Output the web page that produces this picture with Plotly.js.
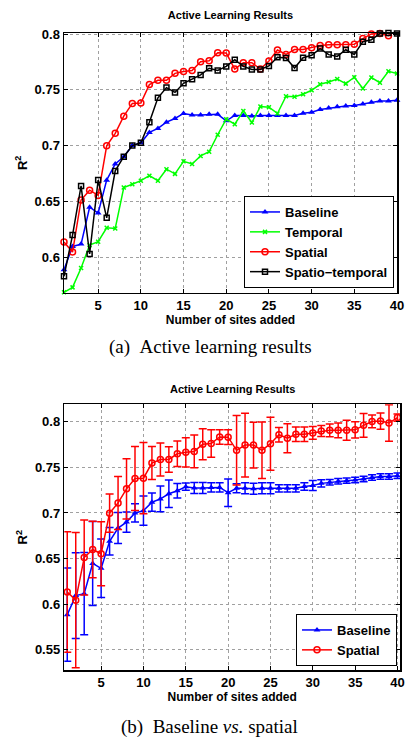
<!DOCTYPE html>
<html>
<head>
<meta charset="utf-8">
<script src="https://cdn.plot.ly/plotly-3.0.1.min.js"></script>
<style>
html,body{margin:0;padding:0;background:#fff;}
#chart{width:406px;height:738px;}
</style>
</head>
<body>
<div id="chart"></div>
<script>
// ---- data ----
const sites = [1,2,3,4,5,6,7,8,9,10,11,12,13,14,15,16,17,18,19,20,21,22,23,24,25,26,27,28,29,30,31,32,33,34,35,36,37,38,39,40];
const baseline = [0.5886,0.6095,0.6116,0.6447,0.6394,0.669,0.6835,0.690,0.700,0.7025,0.7118,0.7154,0.721,0.7243,0.7288,0.7274,0.7274,0.728,0.728,0.7222,0.727,0.727,0.7265,0.727,0.727,0.727,0.727,0.727,0.729,0.730,0.7324,0.7336,0.7348,0.7354,0.736,0.7372,0.7389,0.740,0.740,0.7407];
const temporal = [0.5684,0.5728,0.5902,0.6107,0.6137,0.6262,0.6256,0.6623,0.6653,0.6685,0.673,0.6685,0.6788,0.6746,0.6859,0.6835,0.6907,0.6945,0.7097,0.7237,0.7192,0.7311,0.7207,0.735,0.7344,0.7288,0.7443,0.7438,0.746,0.7496,0.755,0.757,0.7597,0.7556,0.7613,0.7512,0.761,0.7564,0.7666,0.7646];
const spatial = [0.6134,0.6045,0.6512,0.660,0.6553,0.6998,0.711,0.7264,0.7378,0.7381,0.7547,0.7586,0.7586,0.7648,0.7664,0.7674,0.7752,0.7760,0.7832,0.7830,0.7686,0.7743,0.7743,0.7686,0.7759,0.7857,0.7818,0.7862,0.7862,0.7877,0.7897,0.7905,0.7905,0.7905,0.791,0.796,0.8002,0.8006,0.7985,0.8045];
const spatioTemporal = [0.5827,0.6197,0.6638,0.6027,0.6691,0.6352,0.6773,0.690,0.700,0.7025,0.721,0.7428,0.752,0.7477,0.7559,0.7595,0.7634,0.7694,0.7674,0.7710,0.7770,0.7710,0.7682,0.7682,0.7714,0.7793,0.7786,0.7696,0.7788,0.781,0.787,0.7816,0.780,0.786,0.7818,0.7932,0.795,0.8005,0.801,0.8005];
const baselineErr = [0.051,0.047,0.045,0.046,0.032,0.015,0.017,0.011,0.010,0.016,0.010,0.014,0.015,0.008,0.004,0.006,0.006,0.005,0.005,0.015,0.005,0.006,0.006,0.006,0.006,0.004,0.004,0.004,0.004,0.0055,0.004,0.003,0.003,0.003,0.003,0.003,0.003,0.003,0.003,0.003];
const spatialErr = [0.066,0.074,0.041,0.031,0.035,0.021,0.029,0.033,0.035,0.039,0.018,0.018,0.014,0.014,0.016,0.018,0.017,0.015,0.008,0.008,0.038,0.035,0.025,0.031,0.029,0.008,0.016,0.008,0.008,0.007,0.006,0.007,0.008,0.011,0.009,0.013,0.007,0.009,0.020,0.004];
const xTicks = [5,10,15,20,25,30,35,40];
const yTicksA = [0.6,0.65,0.7,0.75,0.8];
const yTickTextA = ['0.6','0.65','0.7','0.75','0.8'];
const yTicksB = [0.55,0.6,0.65,0.7,0.75,0.8];
const yTickTextB = ['0.55','0.6','0.65','0.7','0.75','0.8'];
const seriesNames = ['Baseline','Temporal','Spatial','Spatio\u2212temporal'];
const chartTitle = 'Active Learning Results';
const xTitle = 'Number of sites added';
const yTitle = 'R<sup>2</sup>';
const captionA = '(a)\u00a0\u00a0Active learning results';
const captionB = '(b)\u00a0\u00a0Baseline <i>vs.</i> spatial';

// ---- styling ----
const W = 406, H = 738;
const SANS = 'Liberation Sans, Arial, Helvetica, sans-serif';
const SERIF = 'Liberation Serif, Times New Roman, serif';
const BLUE = '#0000ff', GREEN = '#00ff00', RED = '#ff0000', BLACK = '#000000';
const px = p => p / W;
const py = p => 1 - p / H;

const tickFont = {family: SANS, size: 13, color: '#000', weight: 'bold'};
function xAxis(domain, range, anchor) {
  return {
    domain: domain, range: range, anchor: anchor,
    tickmode: 'array', tickvals: xTicks,
    ticks: 'inside', ticklen: 4, tickwidth: 1, tickcolor: '#000',
    showline: true, linecolor: '#000', linewidth: 1.5, mirror: 'ticks',
    showgrid: true, gridcolor: '#a0a0a0', griddash: 'dot', gridwidth: 1,
    zeroline: false, automargin: false, fixedrange: true,
    tickfont: tickFont,
    title: {text: xTitle, font: {family: SANS, size: 12, color: '#000', weight: 'bold'}, standoff: 0}
  };
}
function yAxis(domain, range, anchor, vals, txt) {
  return {
    domain: domain, range: range, anchor: anchor,
    tickmode: 'array', tickvals: vals, ticktext: txt,
    ticks: 'inside', ticklen: 4, tickwidth: 1, tickcolor: '#000',
    showline: true, linecolor: '#000', linewidth: 1.5, mirror: 'ticks',
    showgrid: true, gridcolor: '#a0a0a0', griddash: 'dot', gridwidth: 1,
    zeroline: false, automargin: false, fixedrange: true,
    tickfont: tickFont,
    title: {text: yTitle, font: {family: SANS, size: 13, color: '#000', weight: 'bold'}, standoff: 4}
  };
}

const traces = [
  {x: sites, y: baseline, name: seriesNames[0], type: 'scatter', mode: 'lines+markers',
   xaxis: 'x', yaxis: 'y', cliponaxis: false,
   line: {color: BLUE, width: 1.5}, marker: {symbol: 'triangle-up', size: 6, color: BLUE}},
  {x: sites, y: temporal, name: seriesNames[1], type: 'scatter', mode: 'lines+markers',
   xaxis: 'x', yaxis: 'y', cliponaxis: false,
   line: {color: GREEN, width: 1.5}, marker: {symbol: 'x-thin-open', size: 4, color: GREEN, line: {color: GREEN, width: 1.5}}},
  {x: sites, y: spatial, name: seriesNames[2], type: 'scatter', mode: 'lines+markers',
   xaxis: 'x', yaxis: 'y', cliponaxis: false,
   line: {color: RED, width: 1.5}, marker: {symbol: 'circle-open', size: 6, color: RED, line: {color: RED, width: 1.5}}},
  {x: sites, y: spatioTemporal, name: seriesNames[3], type: 'scatter', mode: 'lines+markers',
   xaxis: 'x', yaxis: 'y', cliponaxis: false,
   line: {color: BLACK, width: 1.5}, marker: {symbol: 'square-open', size: 5, color: BLACK, line: {color: BLACK, width: 1.5}}},
  {x: sites, y: baseline, name: seriesNames[0], type: 'scatter', mode: 'lines+markers',
   xaxis: 'x2', yaxis: 'y2', legend: 'legend2', cliponaxis: false,
   error_y: {type: 'data', array: baselineErr, visible: true, color: BLUE, thickness: 1.5, width: 4},
   line: {color: BLUE, width: 1.5}, marker: {symbol: 'triangle-up', size: 6, color: BLUE}},
  {x: sites, y: spatial, name: seriesNames[2], type: 'scatter', mode: 'lines+markers',
   xaxis: 'x2', yaxis: 'y2', legend: 'legend2', cliponaxis: false,
   error_y: {type: 'data', array: spatialErr, visible: true, color: RED, thickness: 1.5, width: 4},
   line: {color: RED, width: 1.5}, marker: {symbol: 'circle-open', size: 6, color: RED, line: {color: RED, width: 1.5}}}
];

const legendFont = {family: SANS, size: 13, color: '#000', weight: 'bold'};
const layout = {
  width: W, height: H,
  margin: {l: 0, r: 0, t: 0, b: 0},
  paper_bgcolor: '#fff', plot_bgcolor: '#fff',
  showlegend: true,
  title: {text: chartTitle, font: {family: SANS, size: 11, color: '#000', weight: 'bold'},
          xref: 'container', yref: 'container', x: px(230.5), y: py(15), xanchor: 'center', yanchor: 'middle'},
  xaxis: xAxis([px(64), px(397)], [1, 40], 'y'),
  yaxis: yAxis([py(292.7), py(33)], [0.568, 0.801], 'x', yTicksA, yTickTextA),
  xaxis2: xAxis([px(64.3), px(400)], [0.65, 40.3], 'y2'),
  yaxis2: yAxis([py(670), py(404.3)], [0.528, 0.819], 'x2', yTicksB, yTickTextB),
  legend: {x: px(394), y: py(288), xanchor: 'right', yanchor: 'bottom',
           bgcolor: '#fff', bordercolor: '#000', borderwidth: 1, font: legendFont,
           tracegroupgap: 0, itemwidth: 30},
  legend2: {x: px(397), y: py(666), xanchor: 'right', yanchor: 'bottom',
           bgcolor: '#fff', bordercolor: '#000', borderwidth: 1, font: legendFont,
           tracegroupgap: 0, itemwidth: 30},
  annotations: [
    {text: chartTitle, xref: 'paper', yref: 'paper', x: px(232), y: py(389), xanchor: 'center', yanchor: 'middle',
     showarrow: false, font: {family: SANS, size: 11, color: '#000', weight: 'bold'}},
    {text: captionA, xref: 'paper', yref: 'paper', x: px(210), y: py(347), xanchor: 'center', yanchor: 'middle',
     showarrow: false, font: {family: SERIF, size: 19, color: '#000'}},
    {text: captionB, xref: 'paper', yref: 'paper', x: px(209), y: py(727), xanchor: 'center', yanchor: 'middle',
     showarrow: false, font: {family: SERIF, size: 19, color: '#000'}}
  ]
};

Plotly.newPlot('chart', traces, layout, {staticPlot: true, displayModeBar: false});
</script>
</body>
</html>
